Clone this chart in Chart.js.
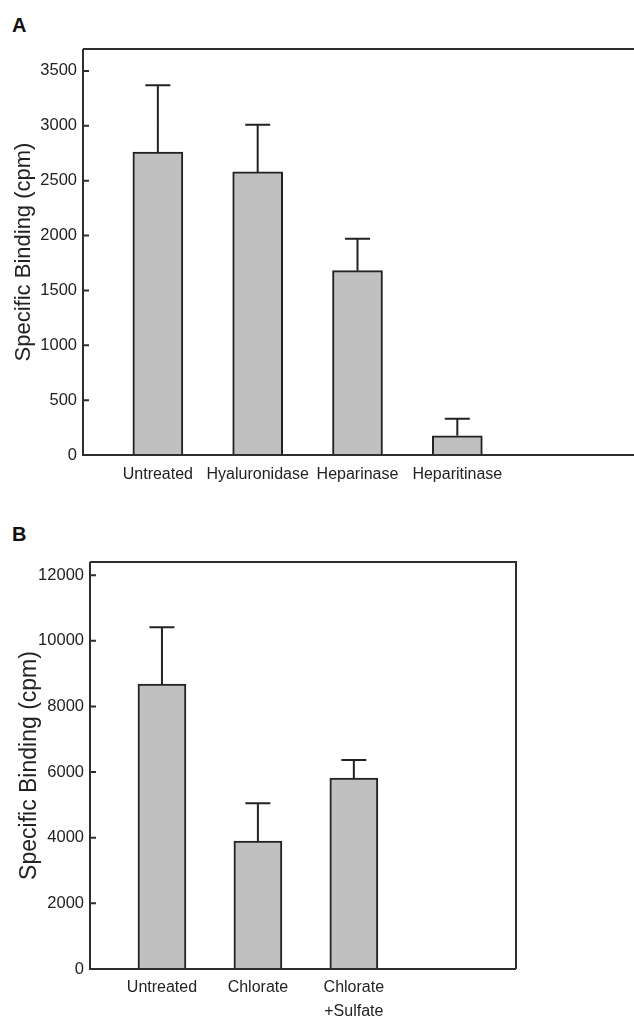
<!DOCTYPE html>
<html>
<head>
<meta charset="utf-8">
<script src="https://cdn.jsdelivr.net/npm/chart.js@4.4.0/dist/chart.umd.min.js"></script>
<style>
  body { margin: 0; background: #fff; width: 634px; height: 1019px; position: relative; overflow: hidden; }
  .panel { position: absolute; left: 0; }
  .letter { position: absolute; left: 12px; font: bold 20px/20px "Liberation Sans", Arial, sans-serif; color: #111; }
</style>
</head>
<body>
<div class="letter" style="top:15px">A</div>
<canvas id="chartA" class="panel" style="top:0" width="634" height="500"></canvas>
<div class="letter" style="top:524px">B</div>
<canvas id="chartB" class="panel" style="top:500px" width="634" height="519"></canvas>
<script>
// Panel A data
const categoriesA = ['Untreated', 'Hyaluronidase', 'Heparinase', 'Heparitinase'];
const valuesA = [2760, 2580, 1680, 175];
const errorsA = [610, 430, 290, 155];
const yTicksA = [0, 500, 1000, 1500, 2000, 2500, 3000, 3500];

// Panel B data
const categoriesB = ['Untreated', 'Chlorate', 'Chlorate\n+Sulfate'];
const valuesB = [8680, 3900, 5820];
const errorsB = [1730, 1150, 550];
const yTicksB = [0, 2000, 4000, 6000, 8000, 10000, 12000];

const yTitle = 'Specific Binding (cpm)';
const FONT = '"Liberation Sans", Arial, sans-serif';
const INK = '#222';

// Box around the plot plus short inward ticks on the y axis
const framePlugin = {
  id: 'frame',
  afterDatasetsDraw(chart, args, opts) {
    const { ctx, chartArea: a, scales: { y } } = chart;
    ctx.save();
    ctx.strokeStyle = opts.color;
    ctx.lineWidth = opts.width;
    ctx.beginPath();
    ctx.moveTo(a.left, a.top);
    ctx.lineTo(a.left, a.bottom);
    ctx.lineTo(a.right, a.bottom);
    ctx.moveTo(a.left, a.top);
    ctx.lineTo(a.right, a.top);
    if (opts.right) {
      ctx.lineTo(a.right, a.bottom);
    }
    y.ticks.forEach(t => {
      const py = y.getPixelForValue(t.value);
      ctx.moveTo(a.left, py);
      ctx.lineTo(a.left + opts.tickLen, py);
    });
    ctx.stroke();
    ctx.restore();
  }
};

// Upward-only error bars with a cap
const errorBarPlugin = {
  id: 'errorBars',
  afterDatasetsDraw(chart, args, opts) {
    const { ctx, scales: { x, y } } = chart;
    const points = chart.data.datasets[0].data;
    ctx.save();
    ctx.strokeStyle = opts.color;
    ctx.lineWidth = opts.width;
    ctx.beginPath();
    opts.errors.forEach((err, i) => {
      const px = x.getPixelForValue(points[i].x);
      const base = y.getPixelForValue(points[i].y);
      const top = y.getPixelForValue(points[i].y + err);
      ctx.moveTo(px, base);
      ctx.lineTo(px, top);
      ctx.moveTo(px - opts.cap / 2, top);
      ctx.lineTo(px + opts.cap / 2, top);
    });
    ctx.stroke();
    ctx.restore();
  }
};

function makeChart(id, cfg) {
  const ctx = document.getElementById(id).getContext('2d');
  return new Chart(ctx, {
    type: 'bar',
    data: {
      datasets: [{
        data: cfg.values.map((v, i) => ({ x: i + 1, y: v })),
        backgroundColor: '#c0c0c0',
        borderColor: INK,
        borderWidth: 2,
        borderSkipped: 'bottom',
        barThickness: cfg.barWidth
      }]
    },
    options: {
      responsive: false,
      animation: false,
      layout: { padding: { top: cfg.padTop, right: cfg.padRight, left: 0, bottom: 0 } },
      plugins: {
        legend: { display: false },
        tooltip: { enabled: false },
        frame: { color: '#2e2e2e', width: 2, tickLen: 6, right: cfg.rightEdge },
        errorBars: { errors: cfg.errors, color: INK, width: 2, cap: 25 }
      },
      scales: {
        x: {
          type: 'linear',
          min: 0.25,
          max: cfg.xMax,
          offset: false,
          grid: { display: false, drawTicks: false },
          border: { display: false },
          afterBuildTicks: s => { s.ticks = cfg.categories.map((c, i) => ({ value: i + 1 })); },
          afterFit: s => { s.height = cfg.xAxisHeight; },
          ticks: {
            autoSkip: false,
            maxRotation: 0,
            padding: cfg.xPad,
            color: INK,
            font: { family: FONT, size: 16, lineHeight: cfg.xLineHeight },
            callback: v => cfg.categories[v - 1].split('\n')
          }
        },
        y: {
          min: 0,
          max: cfg.yMax,
          grid: { display: false, drawTicks: false },
          border: { display: false },
          afterBuildTicks: s => { s.ticks = cfg.yTicks.map(v => ({ value: v })); },
          afterFit: s => { s.width = cfg.yAxisWidth; },
          ticks: {
            padding: 6,
            color: INK,
            font: { family: FONT, size: 16.5 },
            callback: v => String(v)
          },
          title: {
            display: true,
            text: yTitle,
            color: INK,
            font: { family: FONT, size: cfg.titleSize, lineHeight: 1 },
            padding: { top: cfg.titlePad, bottom: 0 }
          }
        }
      }
    },
    plugins: [framePlugin, errorBarPlugin]
  });
}

document.addEventListener('DOMContentLoaded', () => {
  makeChart('chartA', {
    categories: categoriesA, values: valuesA, errors: errorsA, yTicks: yTicksA,
    yMax: 3700, xMax: 5.77, barWidth: 50,
    padTop: 49, padRight: 0, yAxisWidth: 83, xAxisHeight: 45,
    xPad: 10, xLineHeight: 1.2, titleSize: 22, titlePad: 13, rightEdge: false
  });

  makeChart('chartB', {
    categories: categoriesB, values: valuesB, errors: errorsB, yTicks: yTicksB,
    yMax: 12400, xMax: 4.69, barWidth: 48,
    padTop: 62, padRight: 118, yAxisWidth: 90, xAxisHeight: 50,
    xPad: 7, xLineHeight: 1.5, titleSize: 23, titlePad: 18, rightEdge: true
  });
});
</script>
</body>
</html>
